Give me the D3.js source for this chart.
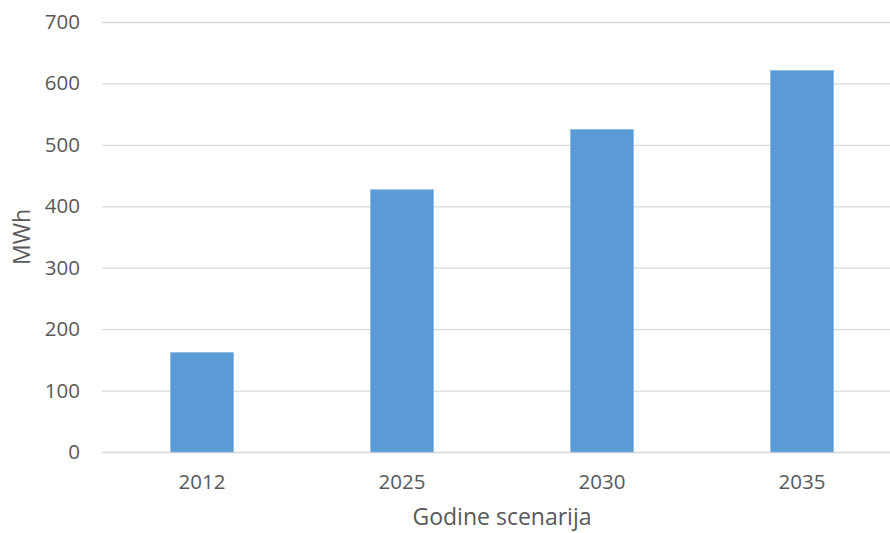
<!DOCTYPE html>
<html>
<head>
<meta charset="utf-8">
<script src="https://cdn.jsdelivr.net/npm/d3@7"></script>
<style>
  body { margin: 0; background: #fff; }
  svg { display: block; font-family: 'Open Sans', sans-serif; }
</style>
</head>
<body>
<svg></svg>
<script>
// MWh po godinama scenarija
const years = ['2012', '2025', '2030', '2035'];
const energy = [162, 427, 525, 621];
const yTicks = [0, 100, 200, 300, 400, 500, 600, 700];

const width = 890;
const height = 533;
const margin = { top: 22, right: -12, bottom: 81, left: 102 };

const xScale = d3.scaleBand()
                 .domain(years)
                 .range([margin.left, width - margin.right])
                 .paddingInner(0.685)
                 .paddingOuter(0.3425);

const yScale = d3.scaleLinear()
                 .domain([0, 700])
                 .range([height - margin.bottom, margin.top]);

const svg = d3.select('svg')
              .attr('width', width)
              .attr('height', height);

// horizontal grid + y labels
const yAxis = d3.axisLeft(yScale)
                .tickValues(yTicks)
                .tickSize(-(width - margin.right - margin.left))
                .tickSizeOuter(0)
                .tickPadding(22);

svg
  .append('g')
    .attr('transform', `translate(${margin.left}, 0)`)
    .call(yAxis)
    .call((g) => g.select('.domain').remove())
    .call((g) => g.selectAll('.tick line').attr('stroke', '#d9d9d9').attr('stroke-width', 1.3))
    .call((g) => g.selectAll('.tick text')
                  .attr('fill', '#595959')
                  .style('font-size', '20.5px')
                  .style('font-family', "'Open Sans', sans-serif"));

svg
  .selectAll('rect.bar')
  .data(years)
  .enter()
  .append('rect')
    .classed('bar', true)
    .attr('x', (d) => xScale(d))
    .attr('y', (d, i) => yScale(energy[i]))
    .attr('width', xScale.bandwidth())
    .attr('height', (d, i) => yScale(0) - yScale(energy[i]))
    .attr('fill', '#5b9bd5')
    .attr('stroke', '#8dbbe6')
    .attr('stroke-width', 0.8);

const xAxis = d3.axisBottom(xScale)
                .tickSize(0)
                .tickPadding(22);

svg
  .append('g')
    .attr('transform', `translate(0, ${yScale(0)})`)
    .call(xAxis)
    .call((g) => g.select('.domain').remove())
    .call((g) => g.selectAll('.tick text')
                  .attr('fill', '#595959')
                  .style('font-size', '20.5px')
                  .style('font-family', "'Open Sans', sans-serif"));

svg
  .append('text')
    .text('Godine scenarija')
    .attr('x', (margin.left + width - margin.right) / 2)
    .attr('y', 525)
    .attr('fill', '#595959')
    .style('font-size', '23px')
    .style('text-anchor', 'middle');

svg
  .append('text')
    .text('MWh')
    .attr('x', -(yScale(0) + yScale(700)) / 2)
    .attr('y', 30)
    .attr('transform', 'rotate(-90)')
    .attr('fill', '#595959')
    .style('font-size', '23px')
    .style('text-anchor', 'middle');
</script>
</body>
</html>
